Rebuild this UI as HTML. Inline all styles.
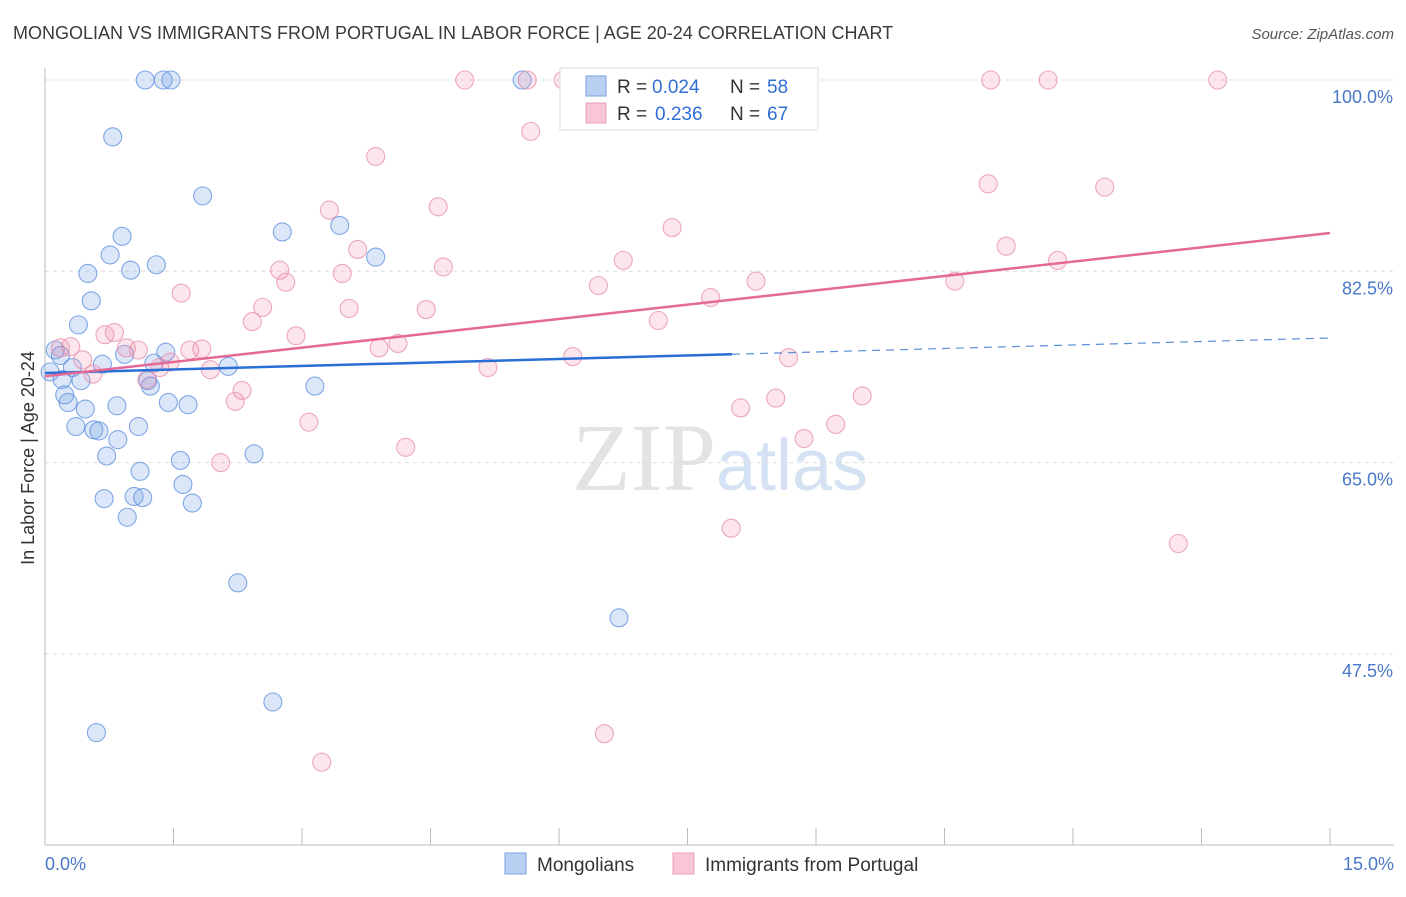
<!DOCTYPE html>
<html><head><meta charset="utf-8"><style>
body{margin:0;background:#fff;font-family:"Liberation Sans",sans-serif}
</style></head><body>
<svg id="chart" width="1406" height="892" xmlns="http://www.w3.org/2000/svg" font-family="Liberation Sans, sans-serif">
<text x="13" y="39" font-size="18" fill="#3a3a3a">MONGOLIAN VS IMMIGRANTS FROM PORTUGAL IN LABOR FORCE | AGE 20-24 CORRELATION CHART</text>
<text x="1394" y="39" font-size="15" fill="#555" text-anchor="end" font-style="italic">Source: ZipAtlas.com</text>
<text x="720" y="490" font-size="96" fill="#e3e3e3" text-anchor="middle" font-family="Liberation Serif, serif">ZIP<tspan fill="#d4e2f4" font-family="Liberation Sans, sans-serif" font-size="72">atlas</tspan></text>
<g id="grid"></g><g id="axes"></g><g id="pts"></g><g id="lines"></g>
<text transform="translate(34,458) rotate(-90)" font-size="18" fill="#333" text-anchor="middle">In Labor Force | Age 20-24</text>
<text x="45" y="870" font-size="18" fill="#4a78c8">0.0%</text>
<text x="1394" y="870" font-size="18" fill="#4a78c8" text-anchor="end">15.0%</text>
<g>
<rect x="560" y="68" width="258" height="62" fill="#fff" stroke="#ddd"/>
<rect x="586" y="76" width="20" height="20" fill="#b9d0f2" stroke="#7aa3e0"/>
<rect x="586" y="103" width="20" height="20" fill="#f8c6d4" stroke="#e8a0b8"/>
<text x="617" y="93" font-size="19" fill="#333">R =</text>
<text x="652" y="93" font-size="19" fill="#2f6fd6">0.024</text>
<text x="730" y="93" font-size="19" fill="#333">N =</text>
<text x="767" y="93" font-size="19" fill="#2f6fd6">58</text>
<text x="617" y="120" font-size="19" fill="#333">R =</text>
<text x="655" y="120" font-size="19" fill="#2f6fd6">0.236</text>
<text x="730" y="120" font-size="19" fill="#333">N =</text>
<text x="767" y="120" font-size="19" fill="#2f6fd6">67</text>
</g>
<g>
<rect x="505" y="853" width="21" height="21" fill="#b9d0f2" stroke="#7aa3e0"/>
<text x="537" y="871" font-size="19" fill="#333">Mongolians</text>
<rect x="673" y="853" width="21" height="21" fill="#f8c6d4" stroke="#e8a0b8"/>
<text x="705" y="871" font-size="19" fill="#333">Immigrants from Portugal</text>
</g>
</svg>
<script>
const yTicks=[100,82.5,65,47.5];
const yTickLabels=["100.0%","82.5%","65.0%","47.5%"];
const xTicks=[0,1.5,3,4.5,6,7.5,9,10.5,12,13.5,15];
const blueX=[1.17,1.38,1.47,5.57,0.79,1.84,0.90,0.76,2.77,3.44,3.86,0.50,1.00,1.30,0.54,0.39,0.12,0.18,0.93,1.41,2.14,0.32,0.67,1.27,0.06,0.20,0.42,1.20,1.23,3.15,0.23,0.27,0.47,0.84,1.44,1.67,0.36,0.57,0.63,1.09,0.85,0.72,1.58,2.44,1.11,1.61,0.69,1.04,1.14,1.72,0.96,2.25,6.70,2.66,0.60];
const blueY=[100,100,100,100,94.8,89.4,85.7,84.0,86.1,86.7,83.8,82.3,82.6,83.1,79.8,77.6,75.3,74.8,74.9,75.1,73.8,73.7,74.0,74.1,73.3,72.6,72.5,72.5,72.0,72.0,71.2,70.5,69.9,70.2,70.5,70.3,68.3,68.0,67.9,68.3,67.1,65.6,65.2,65.8,64.2,63.0,61.7,61.9,61.8,61.3,60.0,54.0,50.8,43.1,40.3];
const pinkX=[4.90,5.63,6.05,6.97,11.04,11.71,13.69,5.67,3.86,11.01,12.37,3.32,4.59,7.32,3.65,11.22,6.75,11.82,2.74,4.65,3.47,2.81,6.46,8.30,10.62,1.59,7.77,2.54,3.55,4.45,7.16,2.42,2.93,0.81,0.70,4.12,3.90,0.30,0.95,0.18,1.09,1.69,1.83,6.16,8.68,0.44,1.46,1.34,1.93,5.17,0.56,1.19,2.30,2.22,8.53,9.54,8.12,3.08,9.23,8.86,4.21,2.05,8.01,13.23,6.53,3.23];
const pinkY=[100,100,100,100,100,100,100,95.3,93.0,90.5,90.2,88.1,88.4,86.5,84.5,84.8,83.5,83.5,82.6,82.9,82.3,81.5,81.2,81.6,81.6,80.5,80.1,79.2,79.1,79.0,78.0,77.9,76.6,76.9,76.7,75.9,75.5,75.6,75.5,75.5,75.3,75.3,75.4,74.7,74.6,74.4,74.2,73.7,73.5,73.7,73.1,72.6,71.6,70.6,70.9,71.1,70.0,68.7,68.5,67.2,66.4,65.0,59.0,57.6,40.2,37.6];
const blueTrend=[73.2,76.4];
const pinkTrend=[72.9,86.0];
const blueSolidEnd=8.02;

const NS="http://www.w3.org/2000/svg";
const X=v=>45+v/15*1285;
const Y=v=>80+(100-v)/17.5*191.3;
function mk(tag,attrs,parent){const e=document.createElementNS(NS,tag);for(const k in attrs)e.setAttribute(k,attrs[k]);document.getElementById(parent).appendChild(e);return e;}
yTicks.forEach((t,i)=>{
 const g=mk('line',{x1:45,x2:1394,y1:Y(t),y2:Y(t),stroke:'#ddd','stroke-dasharray':'4,4'},'grid');
 
 
 const l=mk('text',{x:1393,y:Y(t)+23,'font-size':18,fill:'#4a78c8','text-anchor':'end'},'grid');
 l.textContent=yTickLabels[i];
 
 
});
let a=mk('line',{x1:45,x2:45,y1:68,y2:845,stroke:'#bbb'},'axes');


a=mk('line',{x1:45,x2:1394,y1:845,y2:845,stroke:'#bbb'},'axes');


xTicks.forEach(t=>{
 const k=mk('line',{x1:X(t),x2:X(t),y1:828,y2:845,stroke:'#bbb'},'axes');
 
 
});
function pts(xs,ys,fill,stroke,name){
 xs.forEach((x,i)=>{
  const c=mk('circle',{cx:X(x),cy:Y(ys[i]),r:9,fill:fill,stroke:stroke,'stroke-width':1.1},'pts');
  
  
 });
}
pts(blueX,blueY,'rgba(110,160,230,0.25)','rgba(90,140,220,0.75)','mongolian-point');
pts(pinkX,pinkY,'rgba(240,140,170,0.22)','rgba(230,140,170,0.75)','portugal-point');
const lerp=(t,x)=>t[0]+(t[1]-t[0])*x/15;
let ln=mk('line',{x1:X(0),y1:Y(lerp(blueTrend,0)),x2:X(blueSolidEnd),y2:Y(lerp(blueTrend,blueSolidEnd)),stroke:'#2a6fd6','stroke-width':2.5},'lines');


ln=mk('line',{x1:X(blueSolidEnd),y1:Y(lerp(blueTrend,blueSolidEnd)),x2:X(15),y2:Y(lerp(blueTrend,15)),stroke:'#5a8ed8','stroke-width':1.2,'stroke-dasharray':'8,6'},'lines');


ln=mk('line',{x1:X(0),y1:Y(lerp(pinkTrend,0)),x2:X(15),y2:Y(lerp(pinkTrend,15)),stroke:'#e46a95','stroke-width':2.5},'lines');


</script>
</body></html>
